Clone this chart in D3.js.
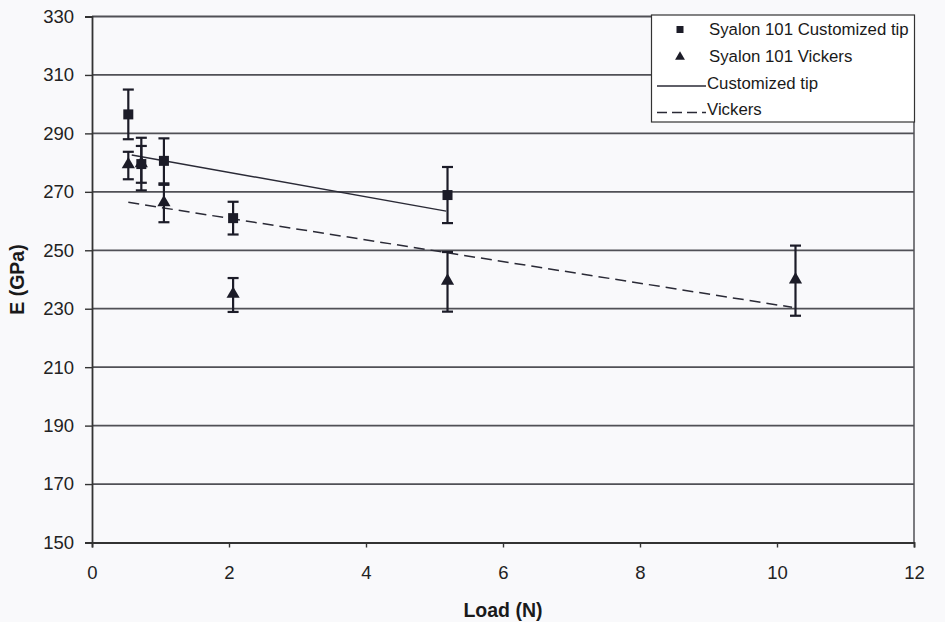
<!DOCTYPE html>
<html>
<head>
<meta charset="utf-8">
<script src="https://cdn.jsdelivr.net/npm/d3@7"></script>
<style>
  html, body { margin: 0; padding: 0; background: #f9f9fb; }
  svg { display: block; font-family: "Liberation Sans", Arial, sans-serif; }
</style>
</head>
<body>
<svg id="chart" width="945" height="622"></svg>
<script>
// Elastic modulus vs. indentation load, Syalon 101
const loadsTip = [0.53, 0.72, 1.05, 2.06, 5.19];
const eTip = [296.5, 279.5, 280.6, 261.0, 268.9];
const errTip = [8.5, 9.0, 7.7, 5.6, 9.6];

const loadsVickers = [0.53, 0.72, 1.05, 2.06, 5.19, 10.27];
const eVickers = [279.0, 279.4, 266.0, 234.7, 239.2, 239.6];
const errVickers = [4.7, 6.3, 6.4, 5.8, 10.2, 12.0];

// Linear trend lines (end points)
const tipFitLoads = [0.58, 5.17];
const tipFitE = [282.6, 263.4];
const vickersFitLoads = [0.53, 10.22];
const vickersFitE = [266.4, 230.5];

const xTicks = [0, 2, 4, 6, 8, 10, 12];
const yTicks = [150, 170, 190, 210, 230, 250, 270, 290, 310, 330];

const legendLabels = ["Syalon 101 Customized tip", "Syalon 101 Vickers", "Customized tip", "Vickers"];

const svg = d3.select("#chart");
const x = d3.scaleLinear().domain([0, 12]).range([92, 914]);
const y = d3.scaleLinear().domain([150, 330]).range([542.5, 16.5]);

const ink = "#1c1c28";
const gridColor = "#505056";

// horizontal gridlines
svg.append("g").selectAll("line").data(yTicks.filter(d => d !== 150)).join("line")
  .attr("x1", x(0)).attr("x2", x(12))
  .attr("y1", d => y(d)).attr("y2", d => y(d))
  .attr("stroke", gridColor).attr("stroke-width", 1.8);

// right frame
svg.append("line")
  .attr("x1", x(12)).attr("x2", x(12)).attr("y1", y(330)).attr("y2", y(150))
  .attr("stroke", gridColor).attr("stroke-width", 1.5);

// axes
const yAxis = d3.axisLeft(y).tickValues(yTicks).tickSize(7).tickPadding(11).tickFormat(d3.format("d"));
const gy = svg.append("g").attr("transform", `translate(${x(0)},0)`).call(yAxis);
const xAxis = d3.axisBottom(x).tickValues(xTicks).tickSize(5).tickPadding(18).tickFormat(d3.format("d"));
const gx = svg.append("g").attr("transform", `translate(0,${y(150)})`).call(xAxis);
[gx, gy].forEach(g => {
  g.select(".domain").attr("stroke", "#333").attr("stroke-width", 1.8);
  g.selectAll(".tick line").attr("stroke", "#333").attr("stroke-width", 1.4);
  g.selectAll(".tick text").attr("fill", "#222").attr("font-size", 18.5)
    .attr("font-family", "Liberation Sans, Arial, sans-serif");
});

// axis titles
svg.append("text").attr("x", (x(0) + x(12)) / 2).attr("y", 617)
  .attr("text-anchor", "middle").attr("font-weight", "bold").attr("font-size", 19.5)
  .attr("fill", "#1a1a1a").text("Load (N)");
svg.append("text")
  .attr("transform", `translate(24,${(y(150) + y(330)) / 2}) rotate(-90)`)
  .attr("text-anchor", "middle").attr("font-weight", "bold").attr("font-size", 19.5)
  .attr("fill", "#1a1a1a").text("E (GPa)");

// trend lines
const line = d3.line().x(d => x(d[0])).y(d => y(d[1]));
svg.append("path").datum(d3.zip(tipFitLoads, tipFitE))
  .attr("d", line).attr("fill", "none").attr("stroke", "#2a2a36").attr("stroke-width", 1.5);
svg.append("path").datum(d3.zip(vickersFitLoads, vickersFitE))
  .attr("d", line).attr("fill", "none").attr("stroke", "#2a2a36").attr("stroke-width", 1.5)
  .attr("stroke-dasharray", "11,6");

// error bars
function errorBars(loads, vals, errs) {
  const g = svg.append("g").attr("stroke", ink).attr("stroke-width", 2.2);
  const data = d3.zip(loads, vals, errs);
  g.selectAll("line.v").data(data).join("line").attr("class", "v")
    .attr("x1", d => x(d[0])).attr("x2", d => x(d[0]))
    .attr("y1", d => y(d[1] + d[2])).attr("y2", d => y(d[1] - d[2]));
  ["+", "-"].forEach(s => {
    g.selectAll("line.c" + (s === "+" ? "t" : "b")).data(data).join("line")
      .attr("class", "c" + (s === "+" ? "t" : "b"))
      .attr("x1", d => x(d[0]) - 5.5).attr("x2", d => x(d[0]) + 5.5)
      .attr("y1", d => y(s === "+" ? d[1] + d[2] : d[1] - d[2]))
      .attr("y2", d => y(s === "+" ? d[1] + d[2] : d[1] - d[2]));
  });
}
errorBars(loadsVickers, eVickers, errVickers);
errorBars(loadsTip, eTip, errTip);

// markers
const tri = d3.symbol().type(d3.symbolTriangle).size(75);
svg.append("g").selectAll("path").data(d3.zip(loadsVickers, eVickers)).join("path")
  .attr("d", tri).attr("transform", d => `translate(${x(d[0])},${y(d[1]) - 1})`)
  .attr("fill", ink);
svg.append("g").selectAll("rect").data(d3.zip(loadsTip, eTip)).join("rect")
  .attr("x", d => x(d[0]) - 5).attr("y", d => y(d[1]) - 5)
  .attr("width", 10).attr("height", 10).attr("fill", ink);

// legend
const lg = svg.append("g");
lg.append("rect").attr("x", 651.5).attr("y", 15).attr("width", 263).attr("height", 107)
  .attr("fill", "#ffffff").attr("stroke", "#333").attr("stroke-width", 1.2);
const rowY = [29, 56, 82.5, 109];
lg.append("rect").attr("x", 676.5).attr("y", rowY[0] - 3).attr("width", 7).attr("height", 7).attr("fill", ink);
lg.append("path").attr("d", d3.symbol().type(d3.symbolTriangle).size(42))
  .attr("transform", `translate(680,${rowY[1] + 1})`).attr("fill", ink);
lg.append("line").attr("x1", 657).attr("x2", 706).attr("y1", rowY[2] + 3.5).attr("y2", rowY[2] + 3.5)
  .attr("stroke", "#2a2a36").attr("stroke-width", 1.4);
lg.append("line").attr("x1", 657).attr("x2", 706).attr("y1", rowY[3] + 3.5).attr("y2", rowY[3] + 3.5)
  .attr("stroke", "#2a2a36").attr("stroke-width", 1.4).attr("stroke-dasharray", "10,5");
lg.selectAll("text").data(legendLabels).join("text")
  .attr("x", (d, i) => i < 2 ? 709 : 707).attr("y", (d, i) => rowY[i])
  .attr("dy", "0.36em").attr("font-size", 16.8).attr("fill", "#1a1a1a").text(d => d);
</script>
</body>
</html>
